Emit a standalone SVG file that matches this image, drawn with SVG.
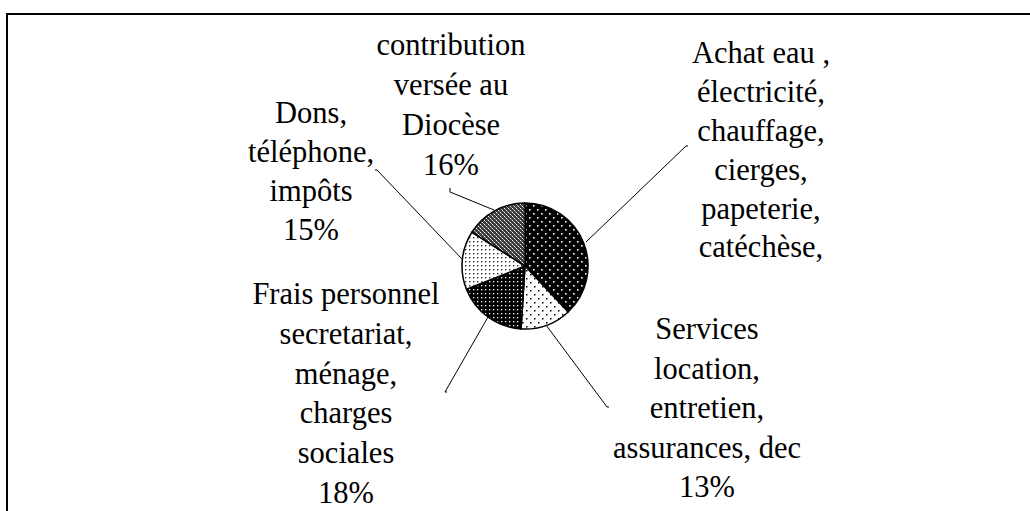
<svg xmlns="http://www.w3.org/2000/svg" width="1030" height="511" viewBox="0 0 1030 511">
<style>
.lbl{font-family:'Liberation Serif','Times New Roman',serif;font-size:30.5px;fill:#000;text-anchor:middle}
.lead{fill:none;stroke:#000;stroke-width:1}
.slice{stroke:#000;stroke-width:1.5;stroke-linejoin:round}
</style>
<defs>
<pattern id="pAchat" width="8" height="8" patternUnits="userSpaceOnUse">
<rect width="8" height="8" fill="#000"/>
<rect x="1" y="1" width="1.6" height="1.6" fill="#fff"/>
<rect x="5" y="5" width="1.6" height="1.6" fill="#fff"/>
</pattern>
<pattern id="pServ" width="8" height="8" patternUnits="userSpaceOnUse">
<rect width="8" height="8" fill="#fff"/>
<rect x="2" y="2" width="1.5" height="1.5" fill="#000"/>
<rect x="6" y="6" width="1.5" height="1.5" fill="#000"/>
</pattern>
<pattern id="pFrais" width="4" height="4" patternUnits="userSpaceOnUse">
<rect width="4" height="4" fill="#000"/>
<rect x="1" y="1" width="1.3" height="1.3" fill="#fff"/>
</pattern>
<pattern id="pDons" width="4" height="4" patternUnits="userSpaceOnUse">
<rect width="4" height="4" fill="#fff"/>
<rect x="1" y="1" width="1.4" height="1.4" fill="#333"/>
</pattern>
<pattern id="pContrib" width="4" height="4" patternUnits="userSpaceOnUse">
<rect width="4" height="4" fill="#3a3a3a"/>
<rect x="0" y="0" width="1" height="1" fill="#fff"/>
<rect x="2" y="2" width="1" height="1" fill="#fff"/>
<rect x="1" y="1" width="1" height="1" fill="#999"/>
<rect x="3" y="3" width="1" height="1" fill="#999"/>
</pattern>
</defs>
<path id="frame" d="M7,511 L7,14 L1030,14" fill="none" stroke="#000" stroke-width="2"/>
<g id="pie">
<path id="slice-achat" class="slice" fill="url(#pAchat)" d="M525,266 L525,203 A63,63 0 0 1 568.12,311.93 Z"/>
<path id="slice-services" class="slice" fill="url(#pServ)" d="M525,266 L568.12,311.93 A63,63 0 0 1 521.04,328.88 Z"/>
<path id="slice-frais" class="slice" fill="url(#pFrais)" d="M525,266 L521.04,328.88 A63,63 0 0 1 466.42,289.19 Z"/>
<path id="slice-dons" class="slice" fill="url(#pDons)" d="M525,266 L466.42,289.19 A63,63 0 0 1 471.81,232.24 Z"/>
<path id="slice-contrib" class="slice" fill="url(#pContrib)" d="M525,266 L471.81,232.24 A63,63 0 0 1 525,203 Z"/>
</g>
<g id="connectors">
<polyline class="lead" points="586,242 686,146 688,146"/>
<polyline class="lead" points="494,210 450,192 450,188"/>
<polyline class="lead" points="462,259 377,170 375,170"/>
<polyline class="lead" points="488,317 445,392 447,392"/>
<polyline class="lead" points="546,325 607,407 609,407"/>
</g>
<g id="label-contrib">
<text class="lbl" x="451" y="55">contribution</text>
<text class="lbl" x="451" y="95">versée au</text>
<text class="lbl" x="451" y="135">Diocèse</text>
<text class="lbl" x="451" y="175">16%</text>
</g>
<g id="label-achat">
<text class="lbl" x="761" y="63">Achat eau ,</text>
<text class="lbl" x="761" y="102">électricité,</text>
<text class="lbl" x="761" y="141">chauffage,</text>
<text class="lbl" x="761" y="180">cierges,</text>
<text class="lbl" x="761" y="219">papeterie,</text>
<text class="lbl" x="761" y="257">catéchèse,</text>
</g>
<g id="label-dons">
<text class="lbl" x="311" y="123">Dons,</text>
<text class="lbl" x="311" y="162">téléphone,</text>
<text class="lbl" x="311" y="201">impôts</text>
<text class="lbl" x="311" y="240">15%</text>
</g>
<g id="label-frais">
<text class="lbl" x="346" y="304">Frais personnel</text>
<text class="lbl" x="346" y="344">secretariat,</text>
<text class="lbl" x="346" y="384">ménage,</text>
<text class="lbl" x="346" y="423">charges</text>
<text class="lbl" x="346" y="463">sociales</text>
<text class="lbl" x="346" y="503">18%</text>
</g>
<g id="label-services">
<text class="lbl" x="707" y="339">Services</text>
<text class="lbl" x="707" y="379">location,</text>
<text class="lbl" x="707" y="418">entretien,</text>
<text class="lbl" x="707" y="458">assurances, dec</text>
<text class="lbl" x="707" y="497">13%</text>
</g>
</svg>
